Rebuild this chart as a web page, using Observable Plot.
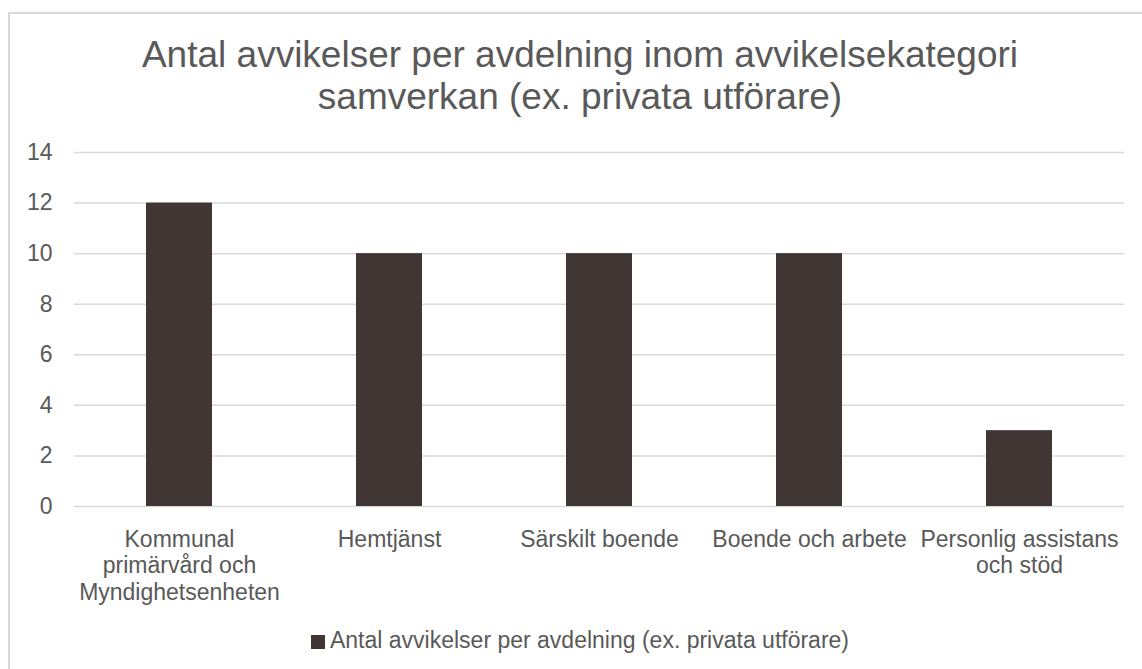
<!DOCTYPE html>
<html>
<head>
<meta charset="utf-8">
<script src="https://cdn.jsdelivr.net/npm/d3@7"></script>
<script src="https://cdn.jsdelivr.net/npm/@observablehq/plot@0.6"></script>
<style>
  html, body { margin: 0; padding: 0; background: #fff; }
  #wrap { position: relative; width: 1142px; height: 669px; overflow: hidden; font-family: "Liberation Sans", Arial, sans-serif; color: #595959; }
  #box { position: absolute; left: 8px; top: 12px; width: 1150px; height: 700px; border: 2px solid #d9d9d9; box-sizing: border-box; }
  #title { position: absolute; left: 8px; width: 1144px; top: 34px; text-align: center; font-size: 37px; line-height: 42px; color: #595959; }
  #chart { position: absolute; left: 0; top: 0; }
  #legend { position: absolute; left: 8px; width: 1144px; top: 627px; text-align: center; font-size: 23px; line-height: 26px; color: #595959; }
  #legend .sw { display: inline-block; width: 14px; height: 14px; margin-right: 5px; vertical-align: -1px; }
</style>
</head>
<body>
<div id="wrap">
  <div id="box"></div>
  <div id="title">Antal avvikelser per avdelning inom avvikelsekategori<br>samverkan (ex. privata utförare)</div>
  <div id="chart"></div>
  <div id="legend"></div>
</div>
<script>
const categories = ["Kommunal primärvård och Myndighetsenheten", "Hemtjänst", "Särskilt boende", "Boende och arbete", "Personlig assistans och stöd"];
const tickLabels = ["Kommunal\nprimärvård och\nMyndighetsenheten", "Hemtjänst", "Särskilt boende", "Boende och arbete", "Personlig assistans\noch stöd"];
const values = [12, 10, 10, 10, 3];
const yTicks = [0, 2, 4, 6, 8, 10, 12, 14];
const seriesName = "Antal avvikelser per avdelning (ex. privata utförare)";
const barColor = "#403633";

const data = categories.map((c, i) => ({category: c, value: values[i]}));
const labelMap = new Map(categories.map((c, i) => [c, tickLabels[i]]));

const plot = Plot.plot({
  width: 1142,
  height: 669,
  marginTop: 152,
  marginBottom: 163,
  marginLeft: 74,
  marginRight: 18,
  style: {fontFamily: '"Liberation Sans", Arial, sans-serif', color: "#595959", background: "transparent"},
  x: {domain: categories, paddingInner: 0.686, paddingOuter: 0.343, axis: null},
  y: {domain: [0, 14], axis: null},
  marks: [
    Plot.gridY(yTicks, {stroke: "#d9d9d9", strokeOpacity: 1, strokeWidth: 1.5}),
    Plot.barY(data, {x: "category", y: "value", fill: barColor}),
    Plot.axisY(yTicks, {tickSize: 0, tickPadding: 22, fontSize: 23, fill: "#595959", label: null}),
    Plot.axisX({tickSize: 0, tickPadding: 21, fontSize: 23, fill: "#595959", lineHeight: 1.165, label: null, tickFormat: d => labelMap.get(d)})
  ]
});
document.getElementById("chart").appendChild(plot);

const legend = document.getElementById("legend");
const sw = document.createElement("span");
sw.className = "sw";
sw.style.background = barColor;
legend.appendChild(sw);
legend.appendChild(document.createTextNode(seriesName));
</script>
</body>
</html>
